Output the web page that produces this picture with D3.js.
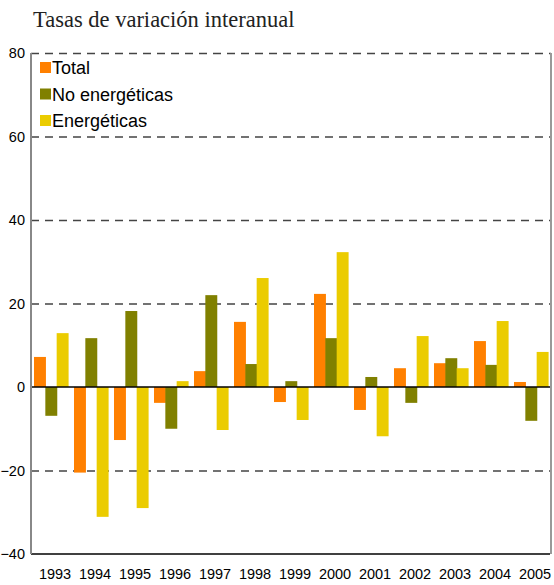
<!DOCTYPE html>
<html>
<head>
<meta charset="utf-8">
<script src="https://cdn.jsdelivr.net/npm/d3@7"></script>
<style>
  body { margin: 0; background: #fff; }
</style>
</head>
<body>
<div id="chart"></div>
<script>
// data
var years = ["1993", "1994", "1995", "1996", "1997", "1998", "1999", "2000", "2001", "2002", "2003", "2004", "2005"];
var seriesNames = ["Total", "No energéticas", "Energéticas"];
var total = [7.2, -20.5, -12.7, -3.8, 3.8, 15.6, -3.6, 22.3, -5.5, 4.5, 5.7, 11.0, 1.2];
var noEnergeticas = [-6.9, 11.7, 18.2, -10.0, 22.0, 5.5, 1.4, 11.7, 2.4, -3.8, 6.9, 5.3, -8.1];
var energeticas = [12.9, -31.1, -29.0, 1.4, -10.3, 26.1, -7.9, 32.3, -11.8, 12.2, 4.5, 15.8, 8.4];
var yTicks = [-40, -20, 0, 20, 40, 60, 80];
var colors = ["#FF8000", "#808000", "#EBCC00"];

function init() {
    var w = 554;
    var h = 585;
    var left = 31, right = 551, top = 53, bottom = 554;

    var svg = d3.select("#chart")
        .append("svg")
        .attr("width", w)
        .attr("height", h);

    // build rows for the bars
    var values = [total, noEnergeticas, energeticas];
    var rows = [];
    years.forEach(function (y, i) {
        seriesNames.forEach(function (s, j) {
            rows.push({ year: y, series: s, value: values[j][i], color: colors[j] });
        });
    });

    var xScale = d3.scaleBand()
        .domain(years)
        .range([left, right]);

    var groupWidth = 34;
    var inner = d3.scaleBand()
        .domain(seriesNames)
        .range([0, groupWidth]);
    var groupOffset = (xScale.bandwidth() - groupWidth) / 2;

    var yScale = d3.scaleLinear()
        .domain([-40, 80])
        .range([bottom, top]);

    // dashed gridlines
    var grid = d3.axisLeft(yScale)
        .tickValues(yTicks.filter(function (d) { return d !== 0 && d !== -40; }))
        .tickSize(-(right - left))
        .tickFormat("");

    svg.append("g")
        .attr("transform", "translate(" + left + ",0)")
        .call(grid)
        .call(function (g) { g.select(".domain").remove(); })
        .selectAll("line")
        .attr("stroke", "#444")
        .attr("stroke-width", 1.3)
        .attr("stroke-dasharray", "8,6");

    // bars
    svg.selectAll("rect.bar")
        .data(rows)
        .enter()
        .append("rect")
        .attr("class", "bar")
        .attr("x", function (d) { return xScale(d.year) + groupOffset + inner(d.series); })
        .attr("y", function (d) { return yScale(Math.max(0, d.value)); })
        .attr("width", inner.bandwidth() + 0.6)
        .attr("height", function (d) { return Math.abs(yScale(d.value) - yScale(0)); })
        .attr("fill", function (d) { return d.color; });

    // zero line
    svg.append("line")
        .attr("x1", left).attr("x2", right - 1)
        .attr("y1", yScale(0)).attr("y2", yScale(0))
        .attr("stroke", "#000")
        .attr("stroke-width", 1.5);

    // bottom axis line
    svg.append("line")
        .attr("x1", left).attr("x2", right - 1)
        .attr("y1", yScale(-40)).attr("y2", yScale(-40))
        .attr("stroke", "#000")
        .attr("stroke-width", 1.5);

    // left axis and right border
    svg.append("line")
        .attr("x1", left).attr("x2", left)
        .attr("y1", top).attr("y2", bottom)
        .attr("stroke", "#888")
        .attr("stroke-width", 2);
    svg.append("line")
        .attr("x1", right).attr("x2", right)
        .attr("y1", top).attr("y2", bottom)
        .attr("stroke", "#999")
        .attr("stroke-width", 2);

    // y tick labels
    var yAxis = d3.axisLeft(yScale)
        .tickValues(yTicks)
        .tickSize(0)
        .tickPadding(6);
    svg.append("g")
        .attr("transform", "translate(" + left + ",0)")
        .call(yAxis)
        .call(function (g) { g.select(".domain").remove(); })
        .selectAll("text")
        .attr("fill", "#000")
        .style("font-size", "14.5px")
        .style("font-family", "Liberation Sans, Arial, sans-serif");

    // x tick labels (shifted a little right, as in the original)
    var xAxis = d3.axisBottom(xScale)
        .tickSize(0)
        .tickPadding(15);
    svg.append("g")
        .attr("transform", "translate(4," + bottom + ")")
        .call(xAxis)
        .call(function (g) { g.select(".domain").remove(); })
        .selectAll("text")
        .attr("fill", "#000")
        .style("font-size", "14.5px")
        .style("font-family", "Liberation Sans, Arial, sans-serif");

    // legend
    var legend = svg.append("g")
        .attr("transform", "translate(40,62)");
    seriesNames.forEach(function (s, i) {
        legend.append("rect")
            .attr("x", 0)
            .attr("y", i * 26.5)
            .attr("width", 11)
            .attr("height", 11)
            .attr("fill", colors[i]);
        legend.append("text")
            .attr("x", 12)
            .attr("y", i * 26.5 + 12)
            .style("font-size", "18px")
            .style("font-family", "Liberation Sans, Arial, sans-serif")
            .text(s);
    });

    // title
    svg.append("text")
        .attr("x", 33)
        .attr("y", 27)
        .style("font-size", "22.5px")
        .style("font-family", "Liberation Serif, serif")
        .attr("fill", "#222")
        .text("Tasas de variación interanual");
}

window.onload = init;
</script>
</body>
</html>
